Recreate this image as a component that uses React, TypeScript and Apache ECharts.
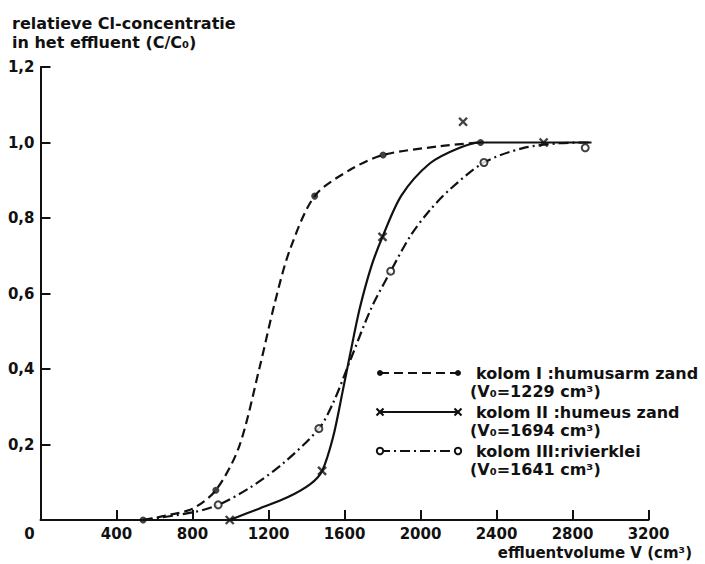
import React, { useEffect, useRef } from 'react';
import * as echarts from 'echarts';

// ---- data ----
const xTickStep = 400;
const xMax = 3200;
const yTickStep = 0.2;
const yMax = 1.2;

// curve traces (effluent volume cm3, C/C0)
const curveIX = [540, 664, 800, 923, 1045, 1154, 1233, 1312, 1443, 1627, 1803, 2100, 2316];
const curveIY = [0, 0.012, 0.03, 0.079, 0.194, 0.406, 0.575, 0.715, 0.858, 0.927, 0.967, 0.99, 1.0];
const curveIIX = [996, 1150, 1300, 1420, 1482, 1540, 1590, 1630, 1680, 1740, 1800, 1900, 2050, 2200, 2316, 2648, 2900];
const curveIIY = [0, 0.03, 0.06, 0.095, 0.13, 0.22, 0.34, 0.44, 0.56, 0.67, 0.75, 0.86, 0.945, 0.985, 1.0, 1.0, 1.0];
const curveIIIX = [540, 800, 935, 1100, 1277, 1465, 1540, 1628, 1740, 1843, 1950, 2048, 2153, 2334, 2539, 2732, 2900];
const curveIIIY = [0, 0.02, 0.04, 0.085, 0.15, 0.242, 0.31, 0.42, 0.56, 0.659, 0.755, 0.82, 0.875, 0.947, 0.985, 0.998, 1.0];

// measured points
const pointsIX = [540, 923, 1443, 1803, 2316];
const pointsIY = [0, 0.079, 0.858, 0.967, 1.0];
const pointsIIX = [996, 1482, 1800, 2224, 2648];
const pointsIIY = [0, 0.13, 0.75, 1.055, 1.0];
const pointsIIIX = [935, 1465, 1843, 2334, 2867];
const pointsIIIY = [0.04, 0.242, 0.659, 0.947, 0.986];

const titleLines = ['relatieve Cl-concentratie', 'in het effluent (C/C₀)'];
const xAxisTitle = 'effluentvolume V (cm³)';
const legendLabels = [
  ['kolom I :humusarm zand', '(V₀=1229 cm³)'],
  ['kolom II :humeus zand', '(V₀=1694 cm³)'],
  ['kolom III:rivierklei', '(V₀=1641 cm³)'],
];

const FONT = '"DejaVu Sans", sans-serif';
const INK = '#111';

const zip = (xs: number[], ys: number[]) => xs.map((x, i) => [x, ys[i]]);

const crossPath = 'path://M0,0L10,10M10,0L0,10';

const DASH_I = [9, 5];
const DASH_III = [10, 4, 2, 4];

function legendRow(y: number, kind: 'dot' | 'cross' | 'circle', dash: number[] | null): any[] {
  const x0 = 380;
  const x1 = 458;
  const els: any[] = [
    {
      type: 'line',
      shape: { x1: x0, y1: y, x2: x1, y2: y },
      style: { stroke: INK, lineWidth: 2, lineDash: dash || undefined },
    },
  ];
  for (const cx of [x0, x1]) {
    if (kind === 'dot') {
      els.push({ type: 'circle', shape: { cx, cy: y, r: 3 }, style: { fill: INK } });
    } else if (kind === 'circle') {
      els.push({ type: 'circle', shape: { cx, cy: y, r: 3.2 }, style: { fill: '#fff', stroke: INK, lineWidth: 2 } });
    } else {
      els.push({ type: 'line', shape: { x1: cx - 3.5, y1: y - 3.5, x2: cx + 3.5, y2: y + 3.5 }, style: { stroke: INK, lineWidth: 2.2 } });
      els.push({ type: 'line', shape: { x1: cx + 3.5, y1: y - 3.5, x2: cx - 3.5, y2: y + 3.5 }, style: { stroke: INK, lineWidth: 2.2 } });
    }
  }
  return els;
}

function txt(x: number, y: number, text: string, size: number, align: string = 'left'): any {
  return {
    type: 'text',
    x,
    y,
    style: {
      text,
      fill: INK,
      font: `bold ${size}px ${FONT}`,
      align,
      verticalAlign: 'middle',
    },
  };
}

export default function App() {
  const ref = useRef<HTMLDivElement>(null);
  useEffect(() => {
    const chart = echarts.init(ref.current!, null, { renderer: 'svg' });
    const rowY = [373, 391, 412, 430, 451, 469];
    const option: any = {
      animation: false,
      backgroundColor: '#fff',
      grid: { left: 40.5, right: 56.5, top: 67, bottom: 44, containLabel: false },
      xAxis: {
        type: 'value',
        min: 0,
        max: xMax,
        interval: xTickStep,
        axisLine: { show: true, lineStyle: { color: INK, width: 2 } },
        axisTick: { show: true, inside: true, length: 10, lineStyle: { color: INK, width: 2 } },
        splitLine: { show: false },
        axisLabel: {
          margin: 6,
          color: INK,
          fontFamily: FONT,
          fontSize: 15,
          fontWeight: 'bold',
          formatter: (v: number) => (v === 0 ? '{z|0}' : String(v)),
          rich: {
            z: { padding: [0, 22, 0, 0], color: INK, fontFamily: FONT, fontSize: 15, fontWeight: 'bold' },
          },
        },
      },
      yAxis: {
        type: 'value',
        min: 0,
        max: yMax,
        interval: yTickStep,
        axisLine: { show: true, lineStyle: { color: INK, width: 2 } },
        axisTick: { show: true, inside: true, length: 10, lineStyle: { color: INK, width: 2 } },
        splitLine: { show: false },
        axisLabel: {
          margin: 6,
          color: INK,
          fontFamily: FONT,
          fontSize: 15,
          fontWeight: 'bold',
          verticalAlign: 'middle',
          padding: [0, 0, 6, 0],
          formatter: (v: number) => (v === 0 ? '' : v.toFixed(1).replace('.', ',')),
        },
      },
      series: [
        {
          type: 'line',
          data: zip(curveIX, curveIY),
          smooth: 0.3,
          showSymbol: false,
          lineStyle: { color: INK, width: 2.2, type: DASH_I },
          z: 2,
        },
        {
          type: 'line',
          data: zip(curveIIX, curveIIY),
          smooth: 0.3,
          showSymbol: false,
          lineStyle: { color: INK, width: 2.2, type: 'solid' },
          z: 2,
        },
        {
          type: 'line',
          data: zip(curveIIIX, curveIIIY),
          smooth: 0.3,
          showSymbol: false,
          lineStyle: { color: INK, width: 2.2, type: DASH_III },
          z: 2,
        },
        {
          type: 'scatter',
          data: zip(pointsIX, pointsIY),
          symbol: 'circle',
          symbolSize: 7,
          itemStyle: { color: INK },
          z: 5,
        },
        {
          type: 'scatter',
          data: zip(pointsIIX, pointsIIY),
          symbol: crossPath,
          symbolSize: 8,
          itemStyle: { color: INK, borderColor: INK, borderWidth: 2.4 },
          z: 5,
        },
        {
          type: 'scatter',
          data: zip(pointsIIIX, pointsIIIY),
          symbol: 'emptyCircle',
          symbolSize: 7,
          itemStyle: { color: INK, borderColor: INK, borderWidth: 2 },
          z: 5,
        },
      ],
      graphic: [
        txt(12, 23, titleLines[0], 16),
        txt(12, 42, titleLines[1], 16),
        txt(692, 553, xAxisTitle, 15, 'right'),
        ...legendRow(rowY[0], 'dot', DASH_I),
        ...legendRow(rowY[2], 'cross', null),
        ...legendRow(rowY[4], 'circle', DASH_III),
        txt(476, rowY[0], legendLabels[0][0], 16),
        txt(470, rowY[1], legendLabels[0][1], 16),
        txt(476, rowY[2], legendLabels[1][0], 16),
        txt(470, rowY[3], legendLabels[1][1], 16),
        txt(476, rowY[4], legendLabels[2][0], 16),
        txt(470, rowY[5], legendLabels[2][1], 16),
      ],
    };
    chart.setOption(option);
    return () => chart.dispose();
  }, []);
  return (
    <div
      ref={ref}
      style={{ position: 'fixed', left: 0, top: 0, width: 705, height: 564, background: '#fff' }}
    />
  );
}
